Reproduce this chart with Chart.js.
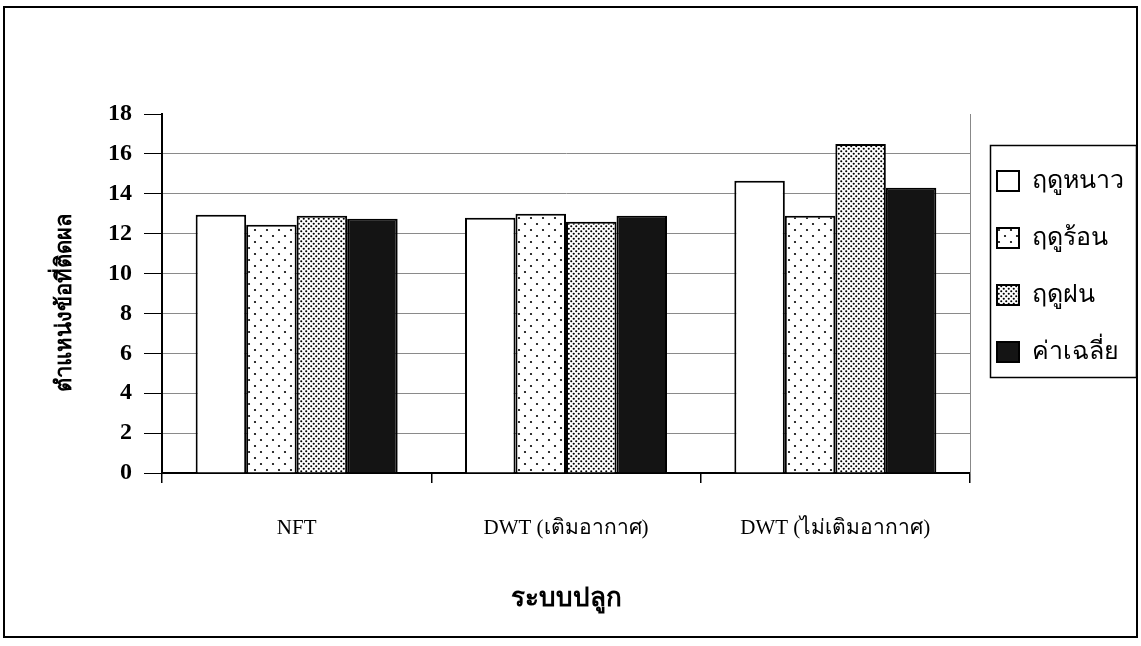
<!DOCTYPE html>
<html>
<head>
<meta charset="utf-8">
<script src="https://cdn.jsdelivr.net/npm/chart.js@4.4.1/dist/chart.umd.min.js"></script>
<style>
html,body{margin:0;padding:0;background:#fff;}
#wrap{width:1141px;height:646px;}
</style>
</head>
<body>
<div id="wrap"><canvas id="graph" width="1141" height="646"></canvas></div>
<script>

const categories=["NFT","DWT (เติมอากาศ)","DWT (ไม่เติมอากาศ)"];
const seriesNames=["ฤดูหนาว","ฤดูร้อน","ฤดูฝน","ค่าเฉลี่ย"];
const winter=[12.95,12.8,14.65];
const summer=[12.45,13.0,12.9];
const rainy=[12.9,12.6,16.5];
const average=[12.75,12.9,14.3];
const yTicks=[0,2,4,6,8,10,12,14,16,18];

const serif="'Liberation Serif','Times New Roman',serif";
const thai="'Liberation Sans','DejaVu Sans',sans-serif";

function makePattern(size,dots,r){
const c=document.createElement("canvas");
c.width=size;c.height=size;
const g=c.getContext("2d");
g.fillStyle="#fff";
g.fillRect(0,0,size,size);
g.fillStyle="#000";
dots.forEach(function(d){
g.beginPath();
g.arc(d[0],d[1],r,0,Math.PI*2);
g.fill();
});
return g.createPattern(c,"repeat");
}

// sparse dots for summer, dense dots for rainy season
const sparse=makePattern(12,[[3,2],[9,8]],1.1);
const dense=makePattern(5,[[1.25,1.25],[3.75,3.75]],1.05);

const frame={
id:"frame",
afterLayout(chart){
const lg=chart.legend;
const w=lg.width,h=lg.height;
lg.left=965;lg.right=965+w;
lg.top=136.5;lg.bottom=136.5+h;
},
beforeDraw(chart){
const c=chart.ctx;
c.save();
c.fillStyle="#fff";
c.fillRect(0,0,chart.width,chart.height);
c.strokeStyle="#000";
c.lineWidth=2;
c.strokeRect(4,7,1133,630);
c.restore();
},
afterDraw(chart){
const c=chart.ctx;
c.save();
c.strokeStyle="#000";
c.lineWidth=1.5;
c.strokeRect(990.5,145.5,146,232);
c.restore();
}
};

const ctx=document.getElementById("graph");

new Chart(ctx,{
type:"bar",
data:{
labels:categories,
datasets:[
{label:seriesNames[0],data:winter,backgroundColor:"#fff",borderColor:"#000",borderWidth:2},
{label:seriesNames[1],data:summer,backgroundColor:sparse,borderColor:"#000",borderWidth:2},
{label:seriesNames[2],data:rainy,backgroundColor:dense,borderColor:"#000",borderWidth:2},
{label:seriesNames[3],data:average,backgroundColor:"#141414",borderColor:"#000",borderWidth:2}
]
},
plugins:[frame],
options:{
responsive:false,
animation:false,
devicePixelRatio:1,
layout:{padding:{left:40,top:114,right:0,bottom:28}},
datasets:{bar:{categoryPercentage:0.75,barPercentage:1,borderSkipped:"bottom"}},
plugins:{
tooltip:{enabled:false},
legend:{
position:"right",
align:"start",
maxWidth:171,
labels:{
color:"#000",
boxWidth:22,
boxHeight:20,
padding:32,
font:{family:thai,size:25}
}
}
},
scales:{
x:{
afterFit(scale){scale.height=145;},
grid:{offset:true,drawOnChartArea:false,color:"#000",tickLength:10,lineWidth:1.5},
border:{color:"#000",width:2},
ticks:{color:"#000",padding:33,font:{family:serif,size:21}},
title:{display:true,text:"ระบบปลูก",color:"#000",padding:{top:10,bottom:4},font:{family:thai,size:26,weight:"bold"}}
},
y:{
min:0,max:18,
afterFit(scale){scale.width=122;},
afterBuildTicks(scale){scale.ticks=yTicks.map(function(v){return {value:v};});},
grid:{
color:function(c){return c.tick&&c.tick.value===18?"rgba(0,0,0,0)":"#8a8a8a";},
tickColor:"#000",
tickLength:18,
lineWidth:1
},
border:{color:"#000",width:2},
ticks:{color:"#000",padding:12,font:{family:serif,size:24,weight:"bold"}},
title:{display:true,text:"ตำแหน่งข้อที่ติดผล   ",color:"#000",padding:{top:12,bottom:0},font:{family:thai,size:22,weight:"bold"}}
},
y2:{
position:"right",
min:0,max:18,
afterFit(scale){scale.width=Math.max(0,171-scale.chart.legend.width);},
grid:{drawOnChartArea:false,drawTicks:false},
border:{color:"#888",width:1,dash:[2,2]},
ticks:{display:false}
}
}
}
});

</script>
</body>
</html>
